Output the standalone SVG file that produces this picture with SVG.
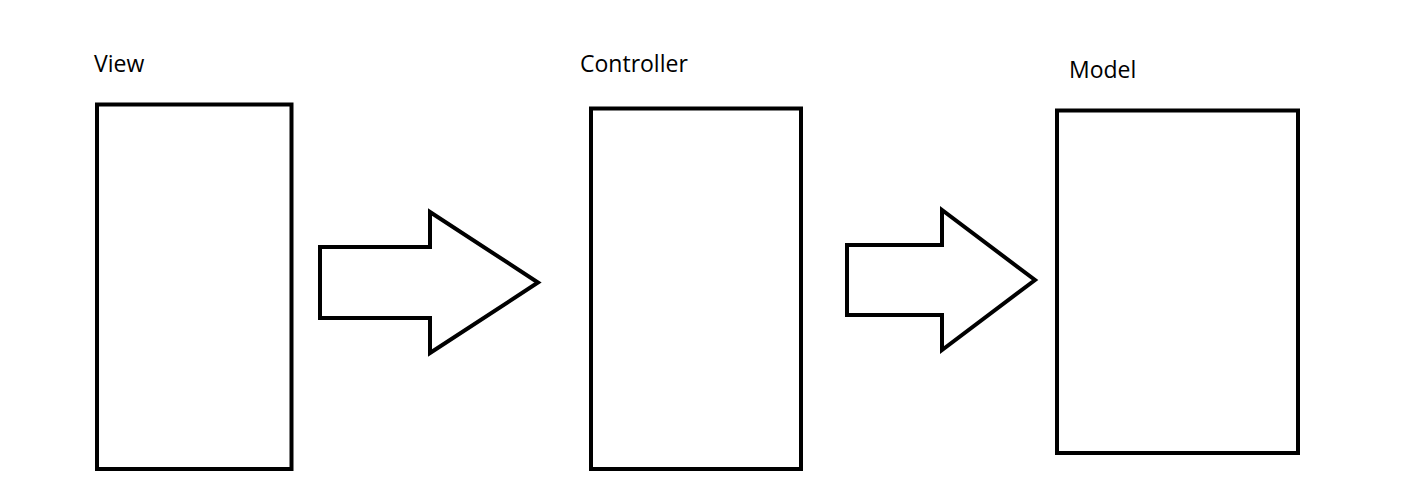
<svg xmlns="http://www.w3.org/2000/svg" width="1418" height="485" viewBox="0 0 1418 485">
<style>
.box{fill:#fff;stroke:#000;stroke-width:4}
.arrow{fill:#fff;stroke:#000;stroke-width:4;stroke-linejoin:miter}
.lbl{font-family:"Open Sans","Noto Sans",sans-serif;font-size:23px;fill:#000}
</style>
<rect width="1418" height="485" fill="#fff"/>
<g id="view">
<rect class="box" x="97" y="104.5" width="194.5" height="364.5"/>
<text class="lbl" x="94" y="72">View</text>
</g>
<g id="controller">
<rect class="box" x="591" y="108.5" width="210" height="360.5"/>
<text class="lbl" x="580" y="72">Controller</text>
</g>
<g id="model">
<rect class="box" x="1057" y="110.5" width="241" height="342.5"/>
<text class="lbl" x="1069" y="78">Model</text>
</g>
<g id="connectors">
<path class="arrow" d="M320,247 L430,247 L430,212 L538,282.5 L430,353 L430,318 L320,318 Z"/>
<path class="arrow" d="M847,245 L942,245 L942,210 L1035,280 L942,350 L942,315 L847,315 Z"/>
</g>
</svg>
